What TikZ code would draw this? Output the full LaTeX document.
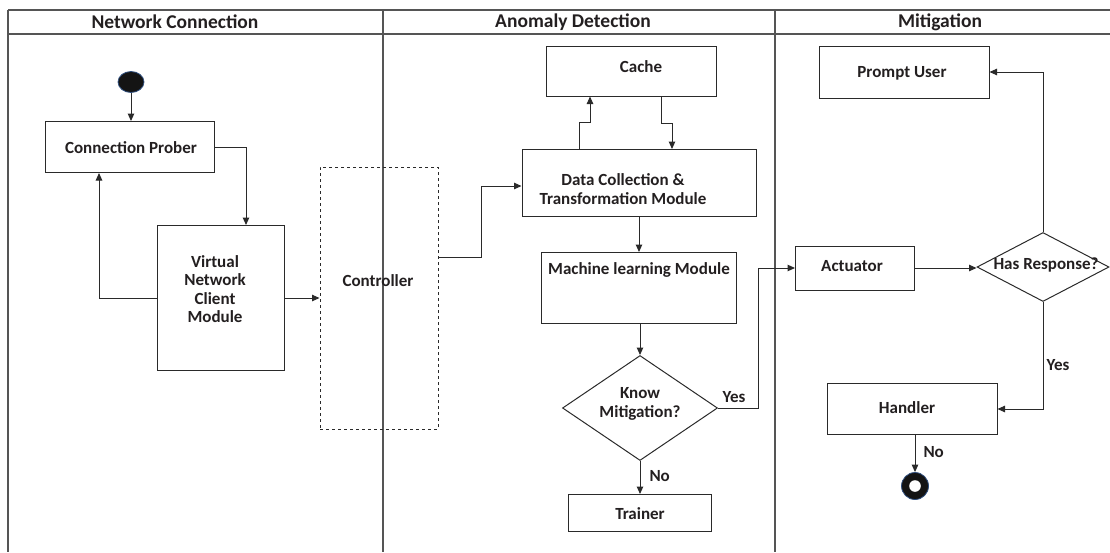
\documentclass[tikz,border=0pt]{standalone}
\usepackage{fontspec}
\setmainfont{Carlito}
\usetikzlibrary{arrows.meta,shapes.geometric,calc}
\definecolor{ink}{HTML}{231F20}
\definecolor{ln}{HTML}{2A2A2A}
\definecolor{lane}{HTML}{555555}
\definecolor{rim}{HTML}{2F4F7F}
\tikzset{
  box/.style={draw=ln, line width=1pt, rectangle, inner sep=0pt, fill=white},
  txt/.style={font=\bfseries\fontsize{17}{18.3}\selectfont, text=ink, align=center, inner sep=0pt},
  hdr/.style={font=\bfseries\fontsize{19.5}{21}\selectfont, text=ink, inner sep=0pt},
  dec/.style={draw=ln, line width=1pt, diamond, inner sep=0pt, aspect=1},
  arr/.style={draw=ln, line width=1pt, -{Triangle[length=7.5pt,width=6.5pt]}},
  lanel/.style={draw=lane, line width=1.1pt}
}
\begin{document}
\begin{tikzpicture}[x=1pt,y=-1pt]
\useasboundingbox (0,0) rectangle (1110,552);
% swimlanes
\draw[lanel] (8,10) -- (1110,10);
\draw[lanel] (8,34) -- (1110,34);
\draw[lanel] (8,10) -- (8,552);
\draw[lanel] (383,10) -- (383,552);
\draw[lanel] (775,10) -- (775,552);
\node[hdr] (h1) at (175,22) {Network Connection};
\node[hdr] (h2) at (573,22) {Anomaly Detection};
\node[hdr] (h3) at (940,22) {Mitigation};
% Network Connection lane
\node[ellipse, fill=black!92, draw=rim, line width=0.8pt, minimum width=26pt, minimum height=21pt, inner sep=0pt] (start) at (131,82) {};
\node[box, minimum width=169pt, minimum height=51pt] (prober) at (130,147) {};
\node[txt] (proberT) at (131,148) {Connection Prober};
\node[box, minimum width=127pt, minimum height=145pt] (vnc) at (221,298) {};
\node[txt] (vncT) at (215,289) {Virtual\\Network\\Client\\Module};
\node[box, dashed, minimum width=118pt, minimum height=262pt, fill=none] (ctrl) at (379,298) {};
\node[txt, fill=none] (ctrlT) at (378,281) {Controller};
% Anomaly Detection lane
\node[box, minimum width=170pt, minimum height=50pt] (cache) at (631,71) {};
\node[txt] (cacheT) at (641,67) {Cache};
\node[box, minimum width=234pt, minimum height=67pt] (dc) at (639,183) {};
\node[txt] (dcT) at (623,189) {Data Collection \&\\Transformation Module};
\node[box, minimum width=195pt, minimum height=71pt] (ml) at (639,288) {};
\node[txt] (mlT) at (639,270) {Machine learning Module};
\node[dec, minimum width=155pt, minimum height=105pt] (km) at (640,408) {};
\node[txt] (kmT) at (640,404) {Know\\Mitigation?};
\node[box, minimum width=143pt, minimum height=37pt] (trainer) at (640,513) {};
\node[txt] (trainerT) at (640,514) {Trainer};
% Mitigation lane
\node[box, minimum width=170pt, minimum height=52pt] (pu) at (904,72) {};
\node[txt] (puT) at (902,73) {Prompt User};
\node[box, minimum width=119pt, minimum height=44pt] (act) at (855,268) {};
\node[txt] (actT) at (852,266) {Actuator};
\node[dec, minimum width=132pt, minimum height=69pt] (hr) at (1043,267) {};
\node[txt] (hrT) at (1046,265) {Has Response?};
\node[box, minimum width=170pt, minimum height=51pt] (hand) at (912,409) {};
\node[txt] (handT) at (907,408) {Handler};
\node[circle, fill=black!92, draw=rim, line width=0.8pt, minimum size=27pt, inner sep=0pt] (end) at (915,486) {};
\fill[white] (end.center) circle (5.8pt);
% connectors
\draw[arr] (start.south) -- (start.south |- prober.north);
\draw[arr] (prober.east) -| ([xshift=25pt]vnc.north);
\draw[arr] (vnc.west) -| ([xshift=-31pt]prober.south);
\draw[arr] (vnc.east) -- (ctrl.west);
\draw[arr] ([yshift=41pt]ctrl.east) -- ++(43,0) |- ([yshift=-3pt]dc.west);
\draw[arr] ([xshift=-60pt]dc.north) -- ++(0,-27) -| ([xshift=-41pt]cache.south);
\draw[arr] ([xshift=30pt]cache.south) -- ++(0,27) -| ([xshift=33pt]dc.north);
\draw[arr] (dc.south) -- (ml.north);
\draw[arr] (ml.south -| km.north) -- (km.north);
\draw[arr] (km.south) -- node[txt, right=9pt, pos=0.45] (no1) {No} (trainer.north);
\draw[arr] (km.east) -- ++(40,0) |- (act.west);
\node[txt] (yes1) at (734,397) {Yes};
\draw[arr] (act.east) -- (act.east -| hr.west);
\draw[arr] (hr.north) |- (pu.east);
\draw[arr] (hr.south) |- (hand.east);
\node[txt] (yes2) at (1058,365) {Yes};
\draw[arr] (end.north |- hand.south) -- node[txt, right=8pt, pos=0.45] (no2) {No} (end.north);
\end{tikzpicture}
\end{document}
